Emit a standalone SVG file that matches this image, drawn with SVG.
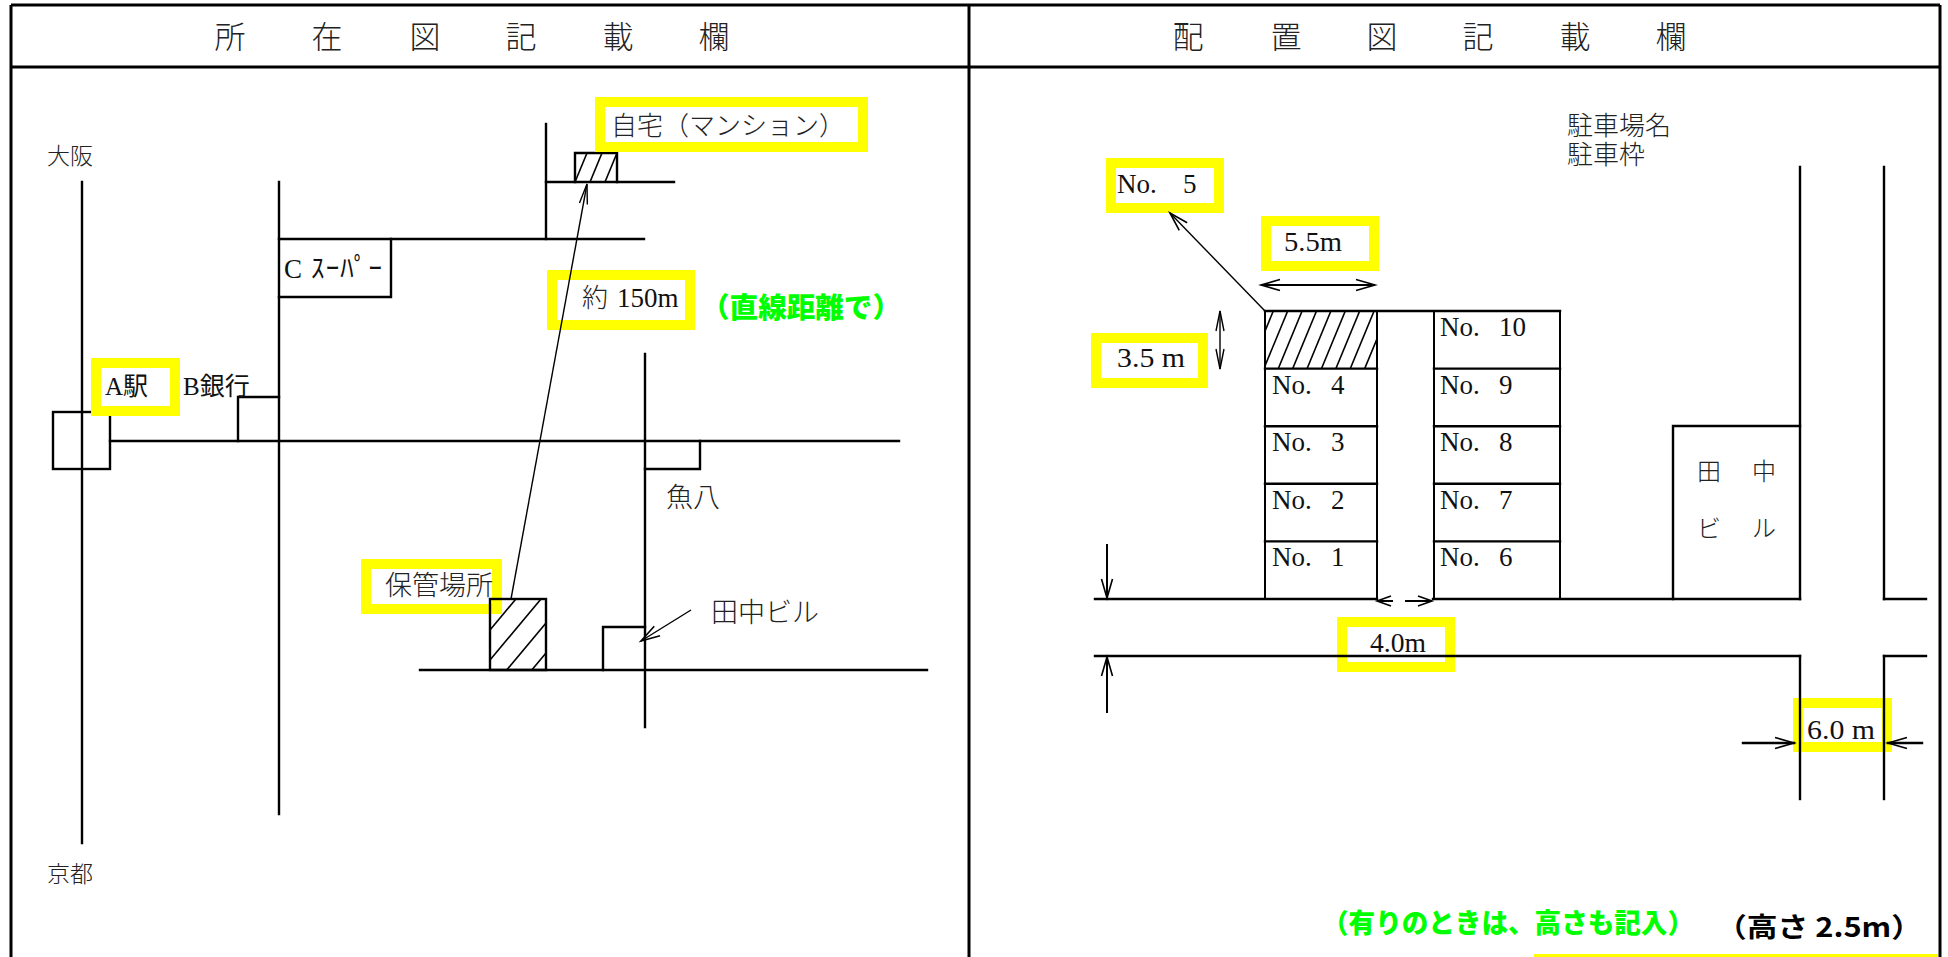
<svg xmlns="http://www.w3.org/2000/svg" width="1948" height="957" viewBox="0 0 1948 957">
<style>
.fr{stroke:#000;stroke-width:3;fill:none}
.rd{stroke:#000;stroke-width:2.4;fill:none;stroke-linecap:square}
.ln{stroke:#000;stroke-width:2;fill:none}
.ht{stroke:#000;stroke-width:1.6;fill:none}
.ar{stroke:#000;stroke-width:1.4;fill:none}
.yb{stroke:#ffff00;stroke-width:10;fill:none}
.jp{font-family:"Noto Sans CJK JP","Noto Sans CJK SC",sans-serif;font-weight:300;fill:#222}
.lt{font-family:"Liberation Serif","Noto Sans CJK JP",serif;fill:#111}
.hd{font-family:"Noto Sans CJK JP",sans-serif;font-weight:300;font-size:31px;fill:#222;text-anchor:middle}
.gr{font-family:"Noto Sans CJK JP",sans-serif;font-weight:900;fill:#00ff00}
.bk{font-family:"Noto Sans CJK JP",sans-serif;font-weight:bold;fill:#000}
</style>
<defs>
<marker id="ah" viewBox="-21 -7 22 14" refX="0" refY="0" markerWidth="22" markerHeight="14" markerUnits="userSpaceOnUse" orient="auto-start-reverse" style="overflow:visible"><path d="M-19,-5.5 L0,0 L-19,5.5" fill="none" stroke="#000" stroke-width="1.6"/></marker>
<marker id="ahn" viewBox="-21 -7 22 14" refX="0" refY="0" markerWidth="22" markerHeight="14" markerUnits="userSpaceOnUse" orient="auto-start-reverse" style="overflow:visible"><path d="M-20,-4 L0,0 L-20,4" fill="none" stroke="#000" stroke-width="1.4"/></marker>
<marker id="ahs" viewBox="-16 -7 17 14" refX="0" refY="0" markerWidth="17" markerHeight="14" markerUnits="userSpaceOnUse" orient="auto-start-reverse" style="overflow:visible"><path d="M-14,-5 L0,0 L-14,5" fill="none" stroke="#000" stroke-width="1.6"/></marker>
<clipPath id="cpP"><rect x="1265" y="311" width="112" height="58"/></clipPath>
<clipPath id="cpS"><rect x="490" y="599" width="56" height="71"/></clipPath>
<clipPath id="cpH"><rect x="575" y="153" width="42" height="29"/></clipPath>
</defs>
<rect width="1948" height="957" fill="#fff"/>

<g id="frame">
<line class="fr" x1="11" y1="5" x2="1940" y2="5"/>
<line class="fr" x1="11" y1="5" x2="11" y2="957"/>
<line class="fr" x1="1940" y1="5" x2="1940" y2="957"/>
<line class="fr" x1="969" y1="5" x2="969" y2="957"/>
<line class="fr" x1="11" y1="67" x2="1940" y2="67"/>
<rect x="1534" y="954" width="404" height="3" fill="#ffff00"/>
</g>

<g id="header-left">
<text class="hd" x="230" y="48">所</text><text class="hd" x="327" y="48">在</text><text class="hd" x="425" y="48">図</text><text class="hd" x="521" y="48">記</text><text class="hd" x="618" y="48">載</text><text class="hd" x="714" y="48">欄</text>
</g>
<g id="header-right">
<text class="hd" x="1188" y="48">配</text><text class="hd" x="1286" y="48">置</text><text class="hd" x="1382" y="48">図</text><text class="hd" x="1478" y="48">記</text><text class="hd" x="1575" y="48">載</text><text class="hd" x="1671" y="48">欄</text>
</g>

<g id="roads-left">
<line class="rd" x1="82" y1="182" x2="82" y2="843"/>
<line class="rd" x1="279" y1="182" x2="279" y2="814"/>
<line class="rd" x1="110" y1="441" x2="899" y2="441"/>
<line class="rd" x1="279" y1="239" x2="644" y2="239"/>
<line class="rd" x1="546" y1="124" x2="546" y2="239"/>
<line class="rd" x1="546" y1="182" x2="674" y2="182"/>
<line class="rd" x1="645" y1="354" x2="645" y2="727"/>
<line class="rd" x1="420" y1="670" x2="927" y2="670"/>
</g>

<g id="station-a">
<rect class="rd" x="53" y="412" width="57" height="57" fill="#fff"/>
</g>
<g id="bank-b"><polyline class="rd" points="238,441 238,397 279,397"/></g>
<g id="super-c"><polyline class="rd" points="279,297 391,297 391,239"/></g>
<g id="uohachi"><polyline class="rd" points="645,469 700,469 700,441"/></g>
<g id="tanaka-left"><polyline class="rd" points="603,670 603,627 645,627"/></g>
<g id="home">
<polyline class="rd" points="575,182 575,153 617,153 617,182"/>
<g clip-path="url(#cpH)">
<line class="ht" x1="587" y1="153" x2="575" y2="182"/>
<line class="ht" x1="602" y1="153" x2="590" y2="182"/>
<line class="ht" x1="617" y1="153" x2="605" y2="182"/>
</g>
</g>

<g id="labels-yellow">
<rect class="yb" x="96" y="363" width="79" height="48"/>
<rect class="yb" x="600" y="102" width="263" height="45"/>
<rect class="yb" x="552" y="275" width="138" height="50"/>
<rect class="yb" x="366" y="564" width="131" height="45"/>
<rect class="yb" x="1111" y="163" width="108" height="45"/>
<rect class="yb" x="1266" y="221" width="108" height="45"/>
<rect class="yb" x="1096" y="338" width="107" height="45"/>
<rect class="yb" x="1342" y="622" width="108" height="45"/>
<rect class="yb" x="1798" y="703" width="89" height="44"/>
</g>

<g id="storage">
<rect class="rd" x="490" y="599" width="56" height="71"/>
<g clip-path="url(#cpS)">
<line class="ht" x1="490" y1="630" x2="546" y2="563"/>
<line class="ht" x1="490" y1="660" x2="546" y2="593"/>
<line class="ht" x1="490" y1="690" x2="546" y2="623"/>
<line class="ht" x1="490" y1="720" x2="546" y2="653"/>
<line class="ht" x1="490" y1="750" x2="546" y2="683"/>
</g>
</g>

<g id="texts-left">
<text class="jp" x="47" y="164" font-size="23">大阪</text>
<text class="jp" x="47" y="882" font-size="23">京都</text>
<text class="lt" x="105" y="395" font-size="25">A駅</text>
<text class="lt" x="183" y="395" font-size="25">B銀行</text>
<text class="lt" x="284" y="278" font-size="27" textLength="98" lengthAdjust="spacing">C ｽｰﾊﾟｰ</text>
<text class="jp" x="611" y="135" font-size="26" textLength="234" lengthAdjust="spacing">自宅（マンション）</text>
<text class="jp" x="582" y="307" font-size="26">約</text>
<text class="lt" x="617" y="307" font-size="27">150m</text>
<text class="gr" x="701" y="318" font-size="28" textLength="200" lengthAdjust="spacingAndGlyphs">（直線距離で）</text>
<text class="jp" x="666" y="507" font-size="27">魚八</text>
<text class="jp" x="385" y="595" font-size="27">保管場所</text>
<text class="jp" x="711" y="622" font-size="27">田中ビル</text>
</g>

<g id="roads-right">
<line class="rd" x1="1095" y1="599" x2="1377" y2="599"/>
<line class="rd" x1="1433" y1="599" x2="1800" y2="599"/>
<line class="rd" x1="1884" y1="599" x2="1926" y2="599"/>
<line class="rd" x1="1095" y1="656" x2="1800" y2="656"/>
<line class="rd" x1="1884" y1="656" x2="1926" y2="656"/>
<line class="rd" x1="1800" y1="167" x2="1800" y2="599"/>
<line class="rd" x1="1884" y1="167" x2="1884" y2="599"/>
<line class="rd" x1="1800" y1="656" x2="1800" y2="799"/>
<line class="rd" x1="1884" y1="656" x2="1884" y2="799"/>
</g>

<g id="tanaka-building">
<polyline class="rd" points="1673,599 1673,426 1800,426"/>
<text class="jp" x="1697" y="480" font-size="24">田</text>
<text class="jp" x="1752" y="480" font-size="24">中</text>
<text class="jp" x="1697" y="537" font-size="24">ビ</text>
<text class="jp" x="1752" y="537" font-size="24">ル</text>
</g>

<g id="parking">
<line class="rd" x1="1265" y1="311" x2="1560" y2="311"/>
<line class="ln" x1="1265" y1="311" x2="1265" y2="599"/>
<line class="ln" x1="1377" y1="311" x2="1377" y2="599"/>
<line class="ln" x1="1434" y1="311" x2="1434" y2="599"/>
<line class="ln" x1="1560" y1="311" x2="1560" y2="599"/>
<line class="rd" x1="1265" y1="368.6" x2="1377" y2="368.6"/>
<line class="rd" x1="1265" y1="426.2" x2="1377" y2="426.2"/>
<line class="rd" x1="1265" y1="483.8" x2="1377" y2="483.8"/>
<line class="rd" x1="1265" y1="541.4" x2="1377" y2="541.4"/>
<line class="rd" x1="1434" y1="368.6" x2="1560" y2="368.6"/>
<line class="rd" x1="1434" y1="426.2" x2="1560" y2="426.2"/>
<line class="rd" x1="1434" y1="483.8" x2="1560" y2="483.8"/>
<line class="rd" x1="1434" y1="541.4" x2="1560" y2="541.4"/>
<g clip-path="url(#cpP)">
<line class="ht" x1="1273.3" y1="311" x2="1249.3" y2="369"/>
<line class="ht" x1="1287.7" y1="311" x2="1263.7" y2="369"/>
<line class="ht" x1="1302.1" y1="311" x2="1278.1" y2="369"/>
<line class="ht" x1="1316.5" y1="311" x2="1292.5" y2="369"/>
<line class="ht" x1="1330.9" y1="311" x2="1306.9" y2="369"/>
<line class="ht" x1="1345.3" y1="311" x2="1321.3" y2="369"/>
<line class="ht" x1="1359.7" y1="311" x2="1335.7" y2="369"/>
<line class="ht" x1="1374.1" y1="311" x2="1350.1" y2="369"/>
<line class="ht" x1="1388.5" y1="311" x2="1364.5" y2="369"/>
</g>
<text class="lt" x="1272" y="393.5" font-size="27">No.</text><text class="lt" x="1331" y="393.5" font-size="27">4</text>
<text class="lt" x="1272" y="451" font-size="27">No.</text><text class="lt" x="1331" y="451" font-size="27">3</text>
<text class="lt" x="1272" y="508.5" font-size="27">No.</text><text class="lt" x="1331" y="508.5" font-size="27">2</text>
<text class="lt" x="1272" y="566" font-size="27">No.</text><text class="lt" x="1331" y="566" font-size="27">1</text>
<text class="lt" x="1440" y="336" font-size="27">No.</text><text class="lt" x="1499" y="336" font-size="27">10</text>
<text class="lt" x="1440" y="393.5" font-size="27">No.</text><text class="lt" x="1499" y="393.5" font-size="27">9</text>
<text class="lt" x="1440" y="451" font-size="27">No.</text><text class="lt" x="1499" y="451" font-size="27">8</text>
<text class="lt" x="1440" y="508.5" font-size="27">No.</text><text class="lt" x="1499" y="508.5" font-size="27">7</text>
<text class="lt" x="1440" y="566" font-size="27">No.</text><text class="lt" x="1499" y="566" font-size="27">6</text>
</g>

<g id="texts-right">
<text class="jp" font-size="26"><tspan x="1567" y="135">駐車場名</tspan><tspan x="1567" y="164">駐車枠</tspan></text>
<text class="lt" x="1117" y="193" font-size="27">No.</text><text class="lt" x="1183" y="193" font-size="27">5</text>
<text class="lt" x="1284" y="251" font-size="27" textLength="58" lengthAdjust="spacingAndGlyphs">5.5m</text>
<text class="lt" x="1117" y="367" font-size="27" textLength="68" lengthAdjust="spacingAndGlyphs">3.5 m</text>
<text class="lt" x="1370" y="652" font-size="27" textLength="56" lengthAdjust="spacingAndGlyphs">4.0m</text>
<text class="lt" x="1807" y="739" font-size="27" textLength="68" lengthAdjust="spacingAndGlyphs">6.0 m</text>
<text class="gr" x="1322" y="933" font-size="27" textLength="372" lengthAdjust="spacingAndGlyphs">（有りのときは、高さも記入）</text>
<text class="bk" x="1716" y="937" font-size="27" textLength="206" lengthAdjust="spacingAndGlyphs">（高さ 2.5m）</text>
</g>

<g id="connectors">
<line class="ar" x1="511" y1="599" x2="587" y2="184" marker-end="url(#ahn)"/>
<line class="ar" x1="691" y1="610" x2="641" y2="641" marker-end="url(#ah)"/>
<line class="ar" x1="1265" y1="311" x2="1170" y2="213" marker-end="url(#ah)"/>
<line class="ln" x1="1261" y1="285" x2="1375" y2="285" marker-start="url(#ah)" marker-end="url(#ah)"/>
<line class="ar" x1="1220" y1="311" x2="1220" y2="369" marker-start="url(#ahn)" marker-end="url(#ahn)"/>
<line class="ln" x1="1107" y1="544" x2="1107" y2="598" marker-end="url(#ah)"/>
<line class="ln" x1="1107" y1="713" x2="1107" y2="657" marker-end="url(#ah)"/>
<line class="ln" x1="1393" y1="601" x2="1377" y2="601" marker-end="url(#ahs)"/>
<line class="ln" x1="1405" y1="601" x2="1432" y2="601" marker-end="url(#ahs)"/>
<line class="rd" x1="1743" y1="743" x2="1794" y2="743" marker-end="url(#ah)"/>
<line class="rd" x1="1922" y1="743" x2="1888" y2="743" marker-end="url(#ah)"/>
</g>
</svg>
